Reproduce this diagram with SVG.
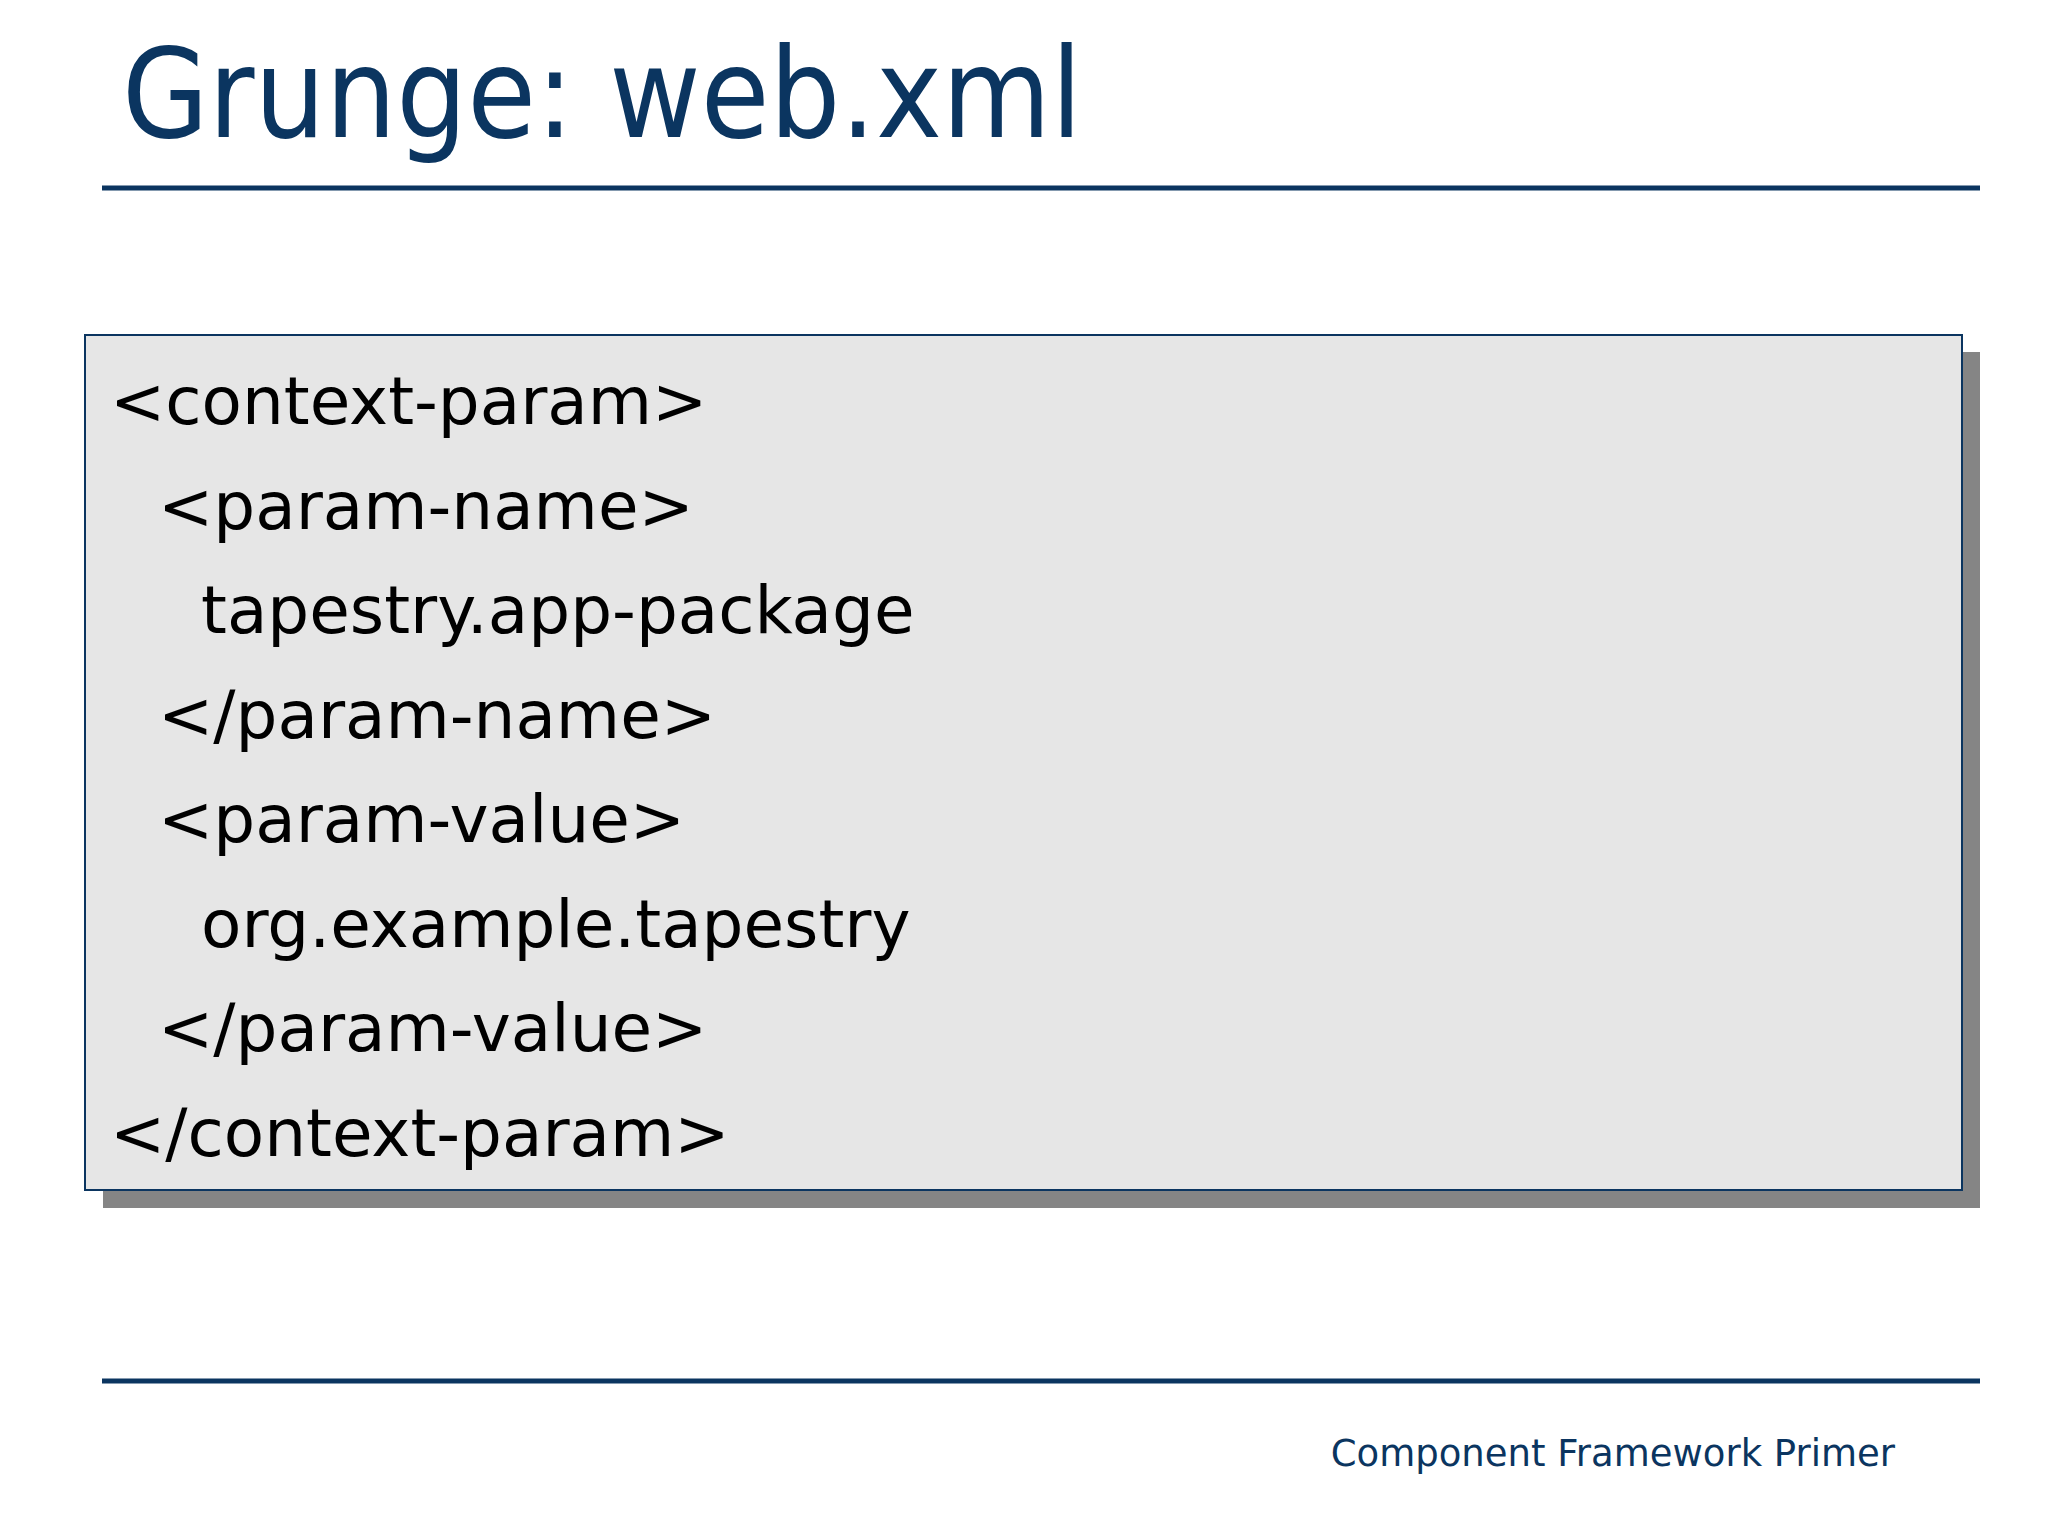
<svg xmlns="http://www.w3.org/2000/svg" width="2048" height="1536" viewBox="0 0 2048 1536">
<style>
.c{font-family:"DejaVu Sans",Verdana,sans-serif;font-size:66px;fill:#000}
</style>
<rect width="2048" height="1536" fill="#fff"/>
<text x="122" y="137" font-family="DejaVu Sans,sans-serif" font-size="124" fill="#0b3560" textLength="960" lengthAdjust="spacingAndGlyphs">Grunge: web.xml</text>
<line x1="102" y1="188" x2="1980" y2="188" stroke="#0b3560" stroke-width="5"/>
<g id="codebox">
<rect x="103" y="352" width="1877" height="856" fill="#858585"/>
<rect x="85" y="335" width="1877" height="855" fill="#e6e6e6" stroke="#0b3560" stroke-width="2"/>
<text class="c" x="110" y="424">&lt;context-param&gt;</text>
<text class="c" x="158" y="529">&lt;param-name&gt;</text>
<text class="c" x="201" y="633">tapestry.app-package</text>
<text class="c" x="158" y="738">&lt;/param-name&gt;</text>
<text class="c" x="158" y="842">&lt;param-value&gt;</text>
<text class="c" x="201" y="947">org.example.tapestry</text>
<text class="c" x="158" y="1051">&lt;/param-value&gt;</text>
<text class="c" x="110" y="1156">&lt;/context-param&gt;</text>
</g>
<line x1="102" y1="1381" x2="1980" y2="1381" stroke="#0b3560" stroke-width="5"/>
<text x="1895" y="1466" text-anchor="end" font-family="DejaVu Sans,sans-serif" font-size="37" fill="#0b3560">Component Framework Primer</text>
</svg>
